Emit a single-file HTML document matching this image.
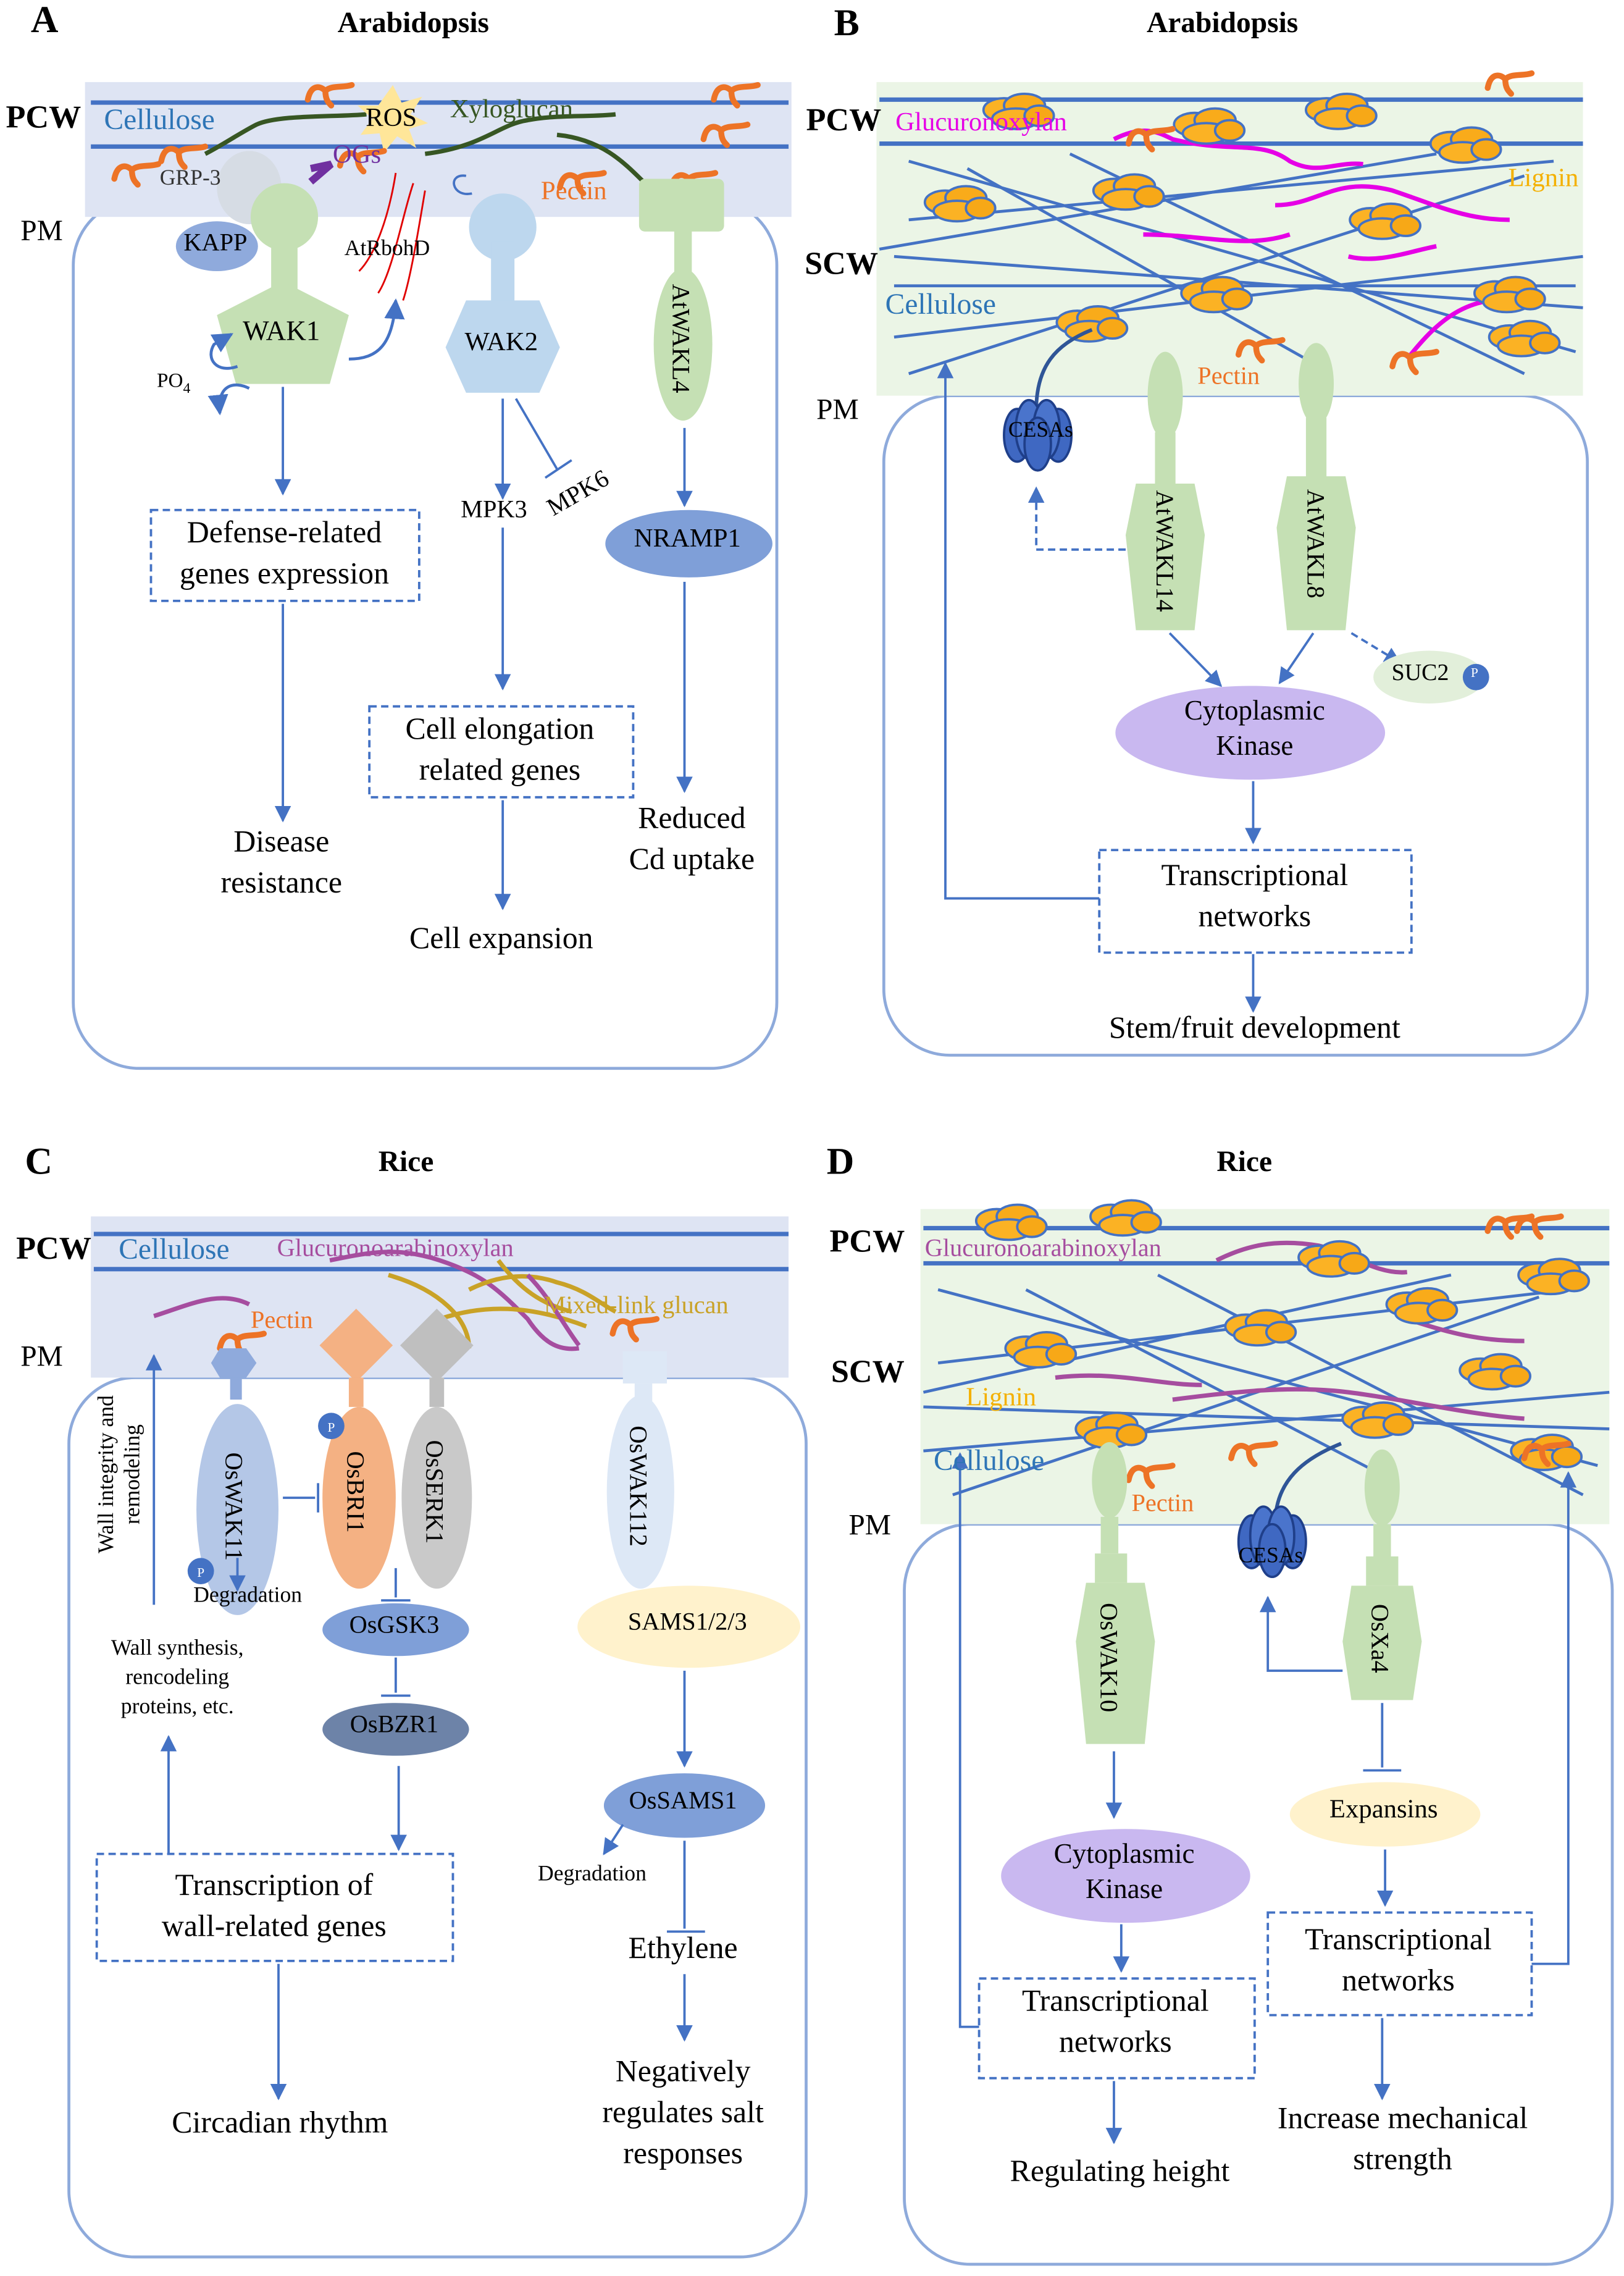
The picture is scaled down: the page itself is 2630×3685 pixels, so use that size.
<!DOCTYPE html>
<html><head><meta charset="utf-8">
<style>
html,body{margin:0;padding:0;background:#fff;}
svg{display:block;width:2630px;height:3685px;}
text{font-family:"Liberation Serif",serif;}
</style></head>
<body>
<svg viewBox="0 0 1108 1553" preserveAspectRatio="none" xmlns="http://www.w3.org/2000/svg">
<defs>
<marker id="ah" viewBox="0 0 10 10" refX="9" refY="5" markerWidth="7" markerHeight="7" orient="auto-start-reverse"><path d="M0,0 L10,5 L0,10 z" fill="#4472c4"/></marker>
<g id="pec"><path d="M0,10 C2,0 8,0 12,4 C16,0 24,2 30,0 M12,4 C12,10 14,12 16,14" fill="none" stroke="#ed7326" stroke-width="4" stroke-linecap="round"/></g>
<g id="lig"><ellipse cx="0" cy="0" rx="14" ry="8" fill="#fbb224"/><ellipse cx="14" cy="-3" rx="14" ry="8" fill="#f9ab1a"/><ellipse cx="8" cy="6" rx="16" ry="7" fill="#fbb224"/><ellipse cx="24" cy="4" rx="10" ry="7" fill="#f7a817"/></g>
<g id="cesa"><ellipse cx="-14" cy="0" rx="9" ry="18" fill="#3f68c2" stroke="#1f3f8a"/><ellipse cx="14" cy="0" rx="9" ry="18" fill="#3f68c2" stroke="#1f3f8a"/><ellipse cx="-6" cy="-4" rx="9" ry="20" fill="#4a74cc" stroke="#1f3f8a"/><ellipse cx="6" cy="-4" rx="9" ry="20" fill="#4a74cc" stroke="#1f3f8a"/><ellipse cx="0" cy="6" rx="9" ry="18" fill="#3f68c2" stroke="#1f3f8a"/></g>
</defs>
<g fill="none" stroke="#4472c4" stroke-width="1.6">

<!-- ================= PANEL A ================= -->
<rect x="50" y="136" width="480" height="593" rx="45" stroke="#8eaadb" stroke-width="2"/>
<rect x="58" y="56" width="482" height="92" fill="#dee4f3" stroke="none"/>
<line x1="62" y1="70" x2="538" y2="70" stroke="#4472c4" stroke-width="3"/>
<line x1="62" y1="100" x2="538" y2="100" stroke="#4472c4" stroke-width="3"/>
<path d="M140,105 C150,100 165,90 175,85 C190,78 230,80 250,78" stroke="#375623" stroke-width="3"/>
<path d="M290,105 C330,100 340,85 360,82 C380,78 405,80 420,78" stroke="#375623" stroke-width="3"/>
<path d="M380,92 C410,95 425,110 440,125" stroke="#375623" stroke-width="3"/>
<polygon points="268,58 274,70 288,66 280,78 292,84 279,88 284,101 271,93 262,104 259,91 246,92 254,81 244,72 258,72" fill="#ffe699" stroke="none"/>
<ellipse cx="170" cy="128" rx="22" ry="25" fill="#d6dce4" stroke="none"/>
<use href="#pec" x="78" y="112"/><use href="#pec" x="110" y="100"/><use href="#pec" x="210" y="58"/><use href="#pec" x="232" y="103"/><use href="#pec" x="487" y="58"/><use href="#pec" x="480" y="85"/><use href="#pec" x="382" y="118"/><use href="#pec" x="458" y="118"/>
<path d="M212,115 L226,112 L212,124" stroke="#7030a0" stroke-width="5"/>
<!-- WAK1 -->
<circle cx="194" cy="148" r="23" fill="#c5e0b4" stroke="none"/>
<rect x="185" y="160" width="18" height="40" fill="#c5e0b4" stroke="none"/>
<polygon points="193,192 238,215 225,262 161,262 148,215" fill="#c5e0b4" stroke="none"/>
<ellipse cx="148" cy="168" rx="28" ry="17" fill="#8faadc" stroke="none"/>
<path d="M282,125 C275,145 268,185 258,200 M270,118 C265,150 255,175 245,185 M290,130 C285,160 280,190 275,205" stroke="#e00000" stroke-width="1.2"/>
<path d="M318,120 C305,118 308,135 322,132" stroke="#4472c4"/>
<path d="M238,245 C258,245 268,235 270,205" marker-end="url(#ah)" stroke-width="2"/>
<path d="M162,250 C148,255 140,245 146,235 L158,228" marker-end="url(#ah)" stroke-width="2"/>
<path d="M170,265 C160,260 148,262 150,282" marker-end="url(#ah)" stroke-width="2"/>
<line x1="193" y1="264" x2="193" y2="337" marker-end="url(#ah)"/>
<rect x="103" y="348" width="183" height="62" stroke-dasharray="5,3"/>
<line x1="193" y1="412" x2="193" y2="560" marker-end="url(#ah)"/>
<!-- WAK2 -->
<circle cx="343" cy="155" r="23" fill="#bdd7ee" stroke="none"/>
<rect x="335" y="165" width="16" height="45" fill="#bdd7ee" stroke="none"/>
<polygon points="318,205 368,205 382,237 368,268 318,268 304,237" fill="#bdd7ee" stroke="none"/>
<line x1="343" y1="272" x2="343" y2="340" marker-end="url(#ah)"/>
<line x1="352" y1="272" x2="380" y2="320"/><line x1="372" y1="326" x2="390" y2="314"/>
<line x1="343" y1="360" x2="343" y2="470" marker-end="url(#ah)"/>
<rect x="252" y="482" width="180" height="62" stroke-dasharray="5,3"/>
<line x1="343" y1="546" x2="343" y2="620" marker-end="url(#ah)"/>
<!-- AtWAKL4 -->
<rect x="436" y="122" width="58" height="36" rx="4" fill="#c5e0b4" stroke="none"/>
<rect x="460" y="155" width="12" height="45" fill="#c5e0b4" stroke="none"/>
<ellipse cx="466" cy="235" rx="20" ry="52" fill="#c5e0b4" stroke="none"/>
<line x1="467" y1="292" x2="467" y2="345" marker-end="url(#ah)"/>
<ellipse cx="470" cy="371" rx="57" ry="23" fill="#7f9fd8" stroke="none"/>
<line x1="467" y1="397" x2="467" y2="540" marker-end="url(#ah)"/>

<!-- ================= PANEL B ================= -->
<rect x="603" y="270" width="480" height="450" rx="45" stroke="#8eaadb" stroke-width="2"/>
<rect x="598" y="56" width="482" height="214" fill="#ebf5e6" stroke="none"/>
<line x1="600" y1="68" x2="1080" y2="68" stroke="#4472c4" stroke-width="3"/>
<line x1="600" y1="98" x2="1080" y2="98" stroke="#4472c4" stroke-width="3"/>
<g stroke="#4472c4" stroke-width="2">
<line x1="620" y1="110" x2="1075" y2="240"/><line x1="620" y1="150" x2="1060" y2="110"/><line x1="610" y1="230" x2="1080" y2="175"/><line x1="620" y1="255" x2="1040" y2="120"/><line x1="610" y1="195" x2="1075" y2="195"/><line x1="660" y1="115" x2="900" y2="250"/><line x1="730" y1="105" x2="1040" y2="255"/><line x1="600" y1="170" x2="980" y2="105"/><line x1="610" y1="175" x2="1080" y2="210"/>
</g>
<g stroke="#e600e6" stroke-width="3">
<path d="M760,95 C780,85 790,90 800,95 C840,105 860,95 880,110 C900,120 910,110 930,112"/>
<path d="M870,140 C900,140 910,120 950,130 C980,140 1000,150 1030,150"/>
<path d="M780,160 C820,160 850,170 880,160"/>
<path d="M960,245 C980,220 1000,200 1040,205"/>
<path d="M920,175 C940,180 960,172 980,168"/>
</g>
<use href="#lig" x="685" y="75"/><use href="#lig" x="815" y="85"/><use href="#lig" x="905" y="75"/><use href="#lig" x="990" y="98"/><use href="#lig" x="645" y="138"/><use href="#lig" x="760" y="130"/><use href="#lig" x="935" y="150"/><use href="#lig" x="820" y="200"/><use href="#lig" x="1020" y="200"/><use href="#lig" x="1030" y="230"/><use href="#lig" x="735" y="220"/>
<use href="#pec" x="770" y="88"/><use href="#pec" x="845" y="232"/><use href="#pec" x="950" y="240"/><use href="#pec" x="1015" y="50"/>
<path d="M707,280 C707,250 720,235 745,225" stroke="#2f5597" stroke-width="2.5"/>
<use href="#cesa" x="708" y="297"/>
<ellipse cx="795" cy="270" rx="12" ry="30" fill="#c5e0b4" stroke="none"/>
<rect x="788" y="295" width="14" height="40" fill="#c5e0b4" stroke="none"/>
<polygon points="775,330 815,330 822,365 815,430 775,430 768,365" fill="#c5e0b4" stroke="none"/>
<ellipse cx="898" cy="262" rx="12" ry="28" fill="#c5e0b4" stroke="none"/>
<rect x="891" y="285" width="14" height="45" fill="#c5e0b4" stroke="none"/>
<polygon points="878,325 918,325 925,360 918,430 878,430 871,360" fill="#c5e0b4" stroke="none"/>
<polyline points="768,375 707,375 707,333" stroke-dasharray="5,3" marker-end="url(#ah)"/>
<line x1="798" y1="432" x2="833" y2="468" marker-end="url(#ah)"/>
<line x1="896" y1="432" x2="873" y2="466" marker-end="url(#ah)"/>
<line x1="922" y1="432" x2="955" y2="452" stroke-dasharray="5,3" marker-end="url(#ah)"/>
<ellipse cx="975" cy="462" rx="38" ry="18" fill="#e2efda" stroke="none"/>
<circle cx="1007" cy="462" r="9" fill="#4472c4" stroke="none"/>
<ellipse cx="853" cy="500" rx="92" ry="32" fill="#c9b8f0" stroke="none"/>
<line x1="855" y1="533" x2="855" y2="575" marker-end="url(#ah)"/>
<rect x="750" y="580" width="213" height="70" stroke-dasharray="5,3"/>
<polyline points="750,613 645,613 645,248" marker-end="url(#ah)"/>
<line x1="855" y1="651" x2="855" y2="690" marker-end="url(#ah)"/>

<!-- ================= PANEL C ================= -->
<rect x="47" y="940" width="503" height="600" rx="45" stroke="#8eaadb" stroke-width="2"/>
<rect x="62" y="830" width="476" height="110" fill="#dee4f3" stroke="none"/>
<line x1="64" y1="842" x2="538" y2="842" stroke="#4472c4" stroke-width="3"/>
<line x1="64" y1="866" x2="538" y2="866" stroke="#4472c4" stroke-width="3"/>
<path d="M105,898 C130,890 150,880 170,890" stroke="#a64d9f" stroke-width="3"/>
<path d="M225,860 C250,855 270,850 300,860 C330,870 340,880 360,900 C370,915 380,922 395,920" stroke="#a64d9f" stroke-width="3"/>
<path d="M265,870 C300,880 320,900 320,920 M320,880 C340,870 360,868 380,875 C400,880 410,890 420,895 M300,900 C330,890 360,890 400,905 M340,860 C355,880 370,890 390,895" stroke="#c9a227" stroke-width="3"/>
<path d="M360,870 C375,885 385,905 395,918" stroke="#a64d9f" stroke-width="3"/>
<use href="#pec" x="150" y="910"/><use href="#pec" x="418" y="900"/>
<polygon points="150,920 168,920 175,930 168,940 150,940 144,930" fill="#8faadc" stroke="none"/>
<rect x="157" y="940" width="8" height="15" fill="#8faadc" stroke="none"/>
<ellipse cx="162" cy="1030" rx="28" ry="72" fill="#b4c7e7" stroke="none"/>
<circle cx="137" cy="1072" r="9" fill="#4472c4" stroke="none"/>
<polygon points="243,893 268,918 243,943 218,918" fill="#f4b183" stroke="none"/>
<rect x="238" y="940" width="10" height="20" fill="#f4b183" stroke="none"/>
<ellipse cx="245" cy="1022" rx="25" ry="62" fill="#f4b183" stroke="none"/>
<circle cx="226" cy="973" r="9" fill="#4472c4" stroke="none"/>
<polygon points="298,893 323,918 298,943 273,918" fill="#bfbfbf" stroke="none"/>
<rect x="293" y="940" width="10" height="20" fill="#bfbfbf" stroke="none"/>
<ellipse cx="298" cy="1022" rx="24" ry="62" fill="#c9c9c9" stroke="none"/>
<line x1="193" y1="1022" x2="215" y2="1022" stroke="#4472c4"/><line x1="217" y1="1012" x2="217" y2="1032"/>
<line x1="162" y1="1063" x2="162" y2="1085" marker-end="url(#ah)"/>
<line x1="270" y1="1070" x2="270" y2="1090" stroke="#4472c4"/><line x1="260" y1="1092" x2="280" y2="1092"/>
<ellipse cx="270" cy="1112" rx="50" ry="18" fill="#7f9fd8" stroke="none"/>
<line x1="270" y1="1131" x2="270" y2="1155"/><line x1="260" y1="1157" x2="280" y2="1157"/>
<ellipse cx="270" cy="1180" rx="50" ry="18" fill="#6d83a8" stroke="none"/>
<line x1="272" y1="1205" x2="272" y2="1262" marker-end="url(#ah)"/>
<rect x="66" y="1265" width="243" height="73" stroke-dasharray="5,3"/>
<line x1="190" y1="1340" x2="190" y2="1432" marker-end="url(#ah)"/>
<line x1="115" y1="1265" x2="115" y2="1185" marker-end="url(#ah)"/>
<line x1="105" y1="1095" x2="105" y2="925" marker-end="url(#ah)"/>
<rect x="425" y="922" width="30" height="22" fill="#dde8f6" stroke="none"/>
<rect x="433" y="944" width="12" height="12" fill="#dde8f6" stroke="none"/>
<ellipse cx="437" cy="1018" rx="23" ry="66" fill="#dde8f6" stroke="none"/>
<ellipse cx="470" cy="1110" rx="76" ry="28" fill="#fff2cc" stroke="none"/>
<line x1="467" y1="1140" x2="467" y2="1205" marker-end="url(#ah)"/>
<ellipse cx="467" cy="1232" rx="55" ry="22" fill="#7f9fd8" stroke="none"/>
<line x1="425" y1="1245" x2="412" y2="1265" marker-end="url(#ah)"/>
<line x1="467" y1="1256" x2="467" y2="1316"/><line x1="455" y1="1318" x2="481" y2="1318"/>
<line x1="467" y1="1347" x2="467" y2="1392" marker-end="url(#ah)"/>

<!-- ================= PANEL D ================= -->
<rect x="617" y="1040" width="483" height="505" rx="45" stroke="#8eaadb" stroke-width="2"/>
<rect x="628" y="825" width="470" height="215" fill="#ebf5e6" stroke="none"/>
<line x1="630" y1="838" x2="1098" y2="838" stroke="#4472c4" stroke-width="3"/>
<line x1="630" y1="862" x2="1098" y2="862" stroke="#4472c4" stroke-width="3"/>
<g stroke="#4472c4" stroke-width="2">
<line x1="640" y1="880" x2="1090" y2="1000"/><line x1="640" y1="930" x2="1070" y2="880"/><line x1="630" y1="990" x2="1098" y2="950"/><line x1="650" y1="1020" x2="1050" y2="885"/><line x1="630" y1="960" x2="1098" y2="975"/><line x1="700" y1="880" x2="950" y2="1010"/><line x1="790" y1="870" x2="1080" y2="1020"/><line x1="630" y1="950" x2="990" y2="870"/>
</g>
<g stroke="#a64d9f" stroke-width="3">
<path d="M830,860 C850,850 870,845 900,850 C920,855 940,870 960,868"/>
<path d="M800,955 C840,950 880,945 920,950 C960,955 1000,965 1040,968"/>
<path d="M720,940 C760,935 790,945 820,945"/>
<path d="M960,900 C990,910 1010,915 1040,915"/>
</g>
<use href="#lig" x="680" y="833"/><use href="#lig" x="758" y="830"/><use href="#lig" x="900" y="858"/><use href="#lig" x="960" y="890"/><use href="#lig" x="850" y="905"/><use href="#lig" x="700" y="920"/><use href="#lig" x="930" y="968"/><use href="#lig" x="1010" y="935"/><use href="#lig" x="748" y="975"/><use href="#lig" x="1045" y="990"/><use href="#lig" x="1050" y="870"/>
<use href="#pec" x="1015" y="830"/><use href="#pec" x="770" y="1000"/><use href="#pec" x="840" y="985"/><use href="#pec" x="1040" y="985"/><use href="#pec" x="1035" y="830"/>
<path d="M870,1040 C870,1010 890,995 915,985" stroke="#2f5597" stroke-width="2.5"/>
<use href="#cesa" x="868" y="1052"/>
<ellipse cx="757" cy="1010" rx="12" ry="26" fill="#c5e0b4" stroke="none"/>
<rect x="751" y="1035" width="12" height="25" fill="#c5e0b4" stroke="none"/>
<rect x="747" y="1060" width="22" height="20" fill="#c5e0b4" stroke="none"/>
<polygon points="741,1080 781,1080 788,1120 781,1190 741,1190 734,1120" fill="#c5e0b4" stroke="none"/>
<ellipse cx="943" cy="1015" rx="12" ry="26" fill="#c5e0b4" stroke="none"/>
<rect x="937" y="1040" width="12" height="25" fill="#c5e0b4" stroke="none"/>
<rect x="932" y="1062" width="22" height="20" fill="#c5e0b4" stroke="none"/>
<polygon points="922,1082 964,1082 970,1120 964,1160 922,1160 916,1120" fill="#c5e0b4" stroke="none"/>
<polyline points="916,1140 865,1140 865,1090" marker-end="url(#ah)"/>
<line x1="943" y1="1162" x2="943" y2="1206"/><line x1="930" y1="1208" x2="956" y2="1208"/>
<ellipse cx="945" cy="1238" rx="65" ry="22" fill="#fff2cc" stroke="none"/>
<line x1="945" y1="1262" x2="945" y2="1300" marker-end="url(#ah)"/>
<rect x="865" y="1305" width="180" height="70" stroke-dasharray="5,3"/>
<polyline points="1045,1340 1070,1340 1070,1005" marker-end="url(#ah)"/>
<line x1="943" y1="1377" x2="943" y2="1432" marker-end="url(#ah)"/>
<line x1="760" y1="1195" x2="760" y2="1240" marker-end="url(#ah)"/>
<ellipse cx="768" cy="1280" rx="85" ry="32" fill="#c9b8f0" stroke="none"/>
<line x1="765" y1="1313" x2="765" y2="1345" marker-end="url(#ah)"/>
<rect x="668" y="1350" width="188" height="68" stroke-dasharray="5,3"/>
<polyline points="668,1383 655,1383 655,992" marker-end="url(#ah)"/>
<line x1="760" y1="1420" x2="760" y2="1462" marker-end="url(#ah)"/>
</g>

<!-- ================= TEXT ================= -->
<g font-family="Liberation Serif, serif" fill="#000" transform="translate(-1,-4)">
<text x="22" y="26" font-size="26" font-weight="bold">A</text>
<text x="283" y="26" font-size="20" font-weight="bold" text-anchor="middle">Arabidopsis</text>
<text x="5" y="91" font-size="22" font-weight="bold">PCW</text>
<text x="72" y="92" font-size="20" fill="#2e75b6">Cellulose</text>
<text x="268" y="90" font-size="18" text-anchor="middle">ROS</text>
<text x="308" y="84" font-size="18" fill="#375623">Xyloglucan</text>
<text x="110" y="130" font-size="15" fill="#333">GRP-3</text>
<text x="228" y="115" font-size="18" fill="#7030a0">OGs</text>
<text x="370" y="140" font-size="18" fill="#ed7326">Pectin</text>
<text x="15" y="168" font-size="20">PM</text>
<text x="148" y="175" font-size="17" text-anchor="middle">KAPP</text>
<text x="236" y="178" font-size="15">AtRbohD</text>
<text x="193" y="236" font-size="19" text-anchor="middle">WAK1</text>
<text x="343" y="243" font-size="18" text-anchor="middle">WAK2</text>
<text transform="translate(460,235) rotate(90)" font-size="17" text-anchor="middle">AtWAKL4</text>
<text x="108" y="268" font-size="14">PO<tspan font-size="10" dy="4">4</tspan></text>
<text x="195" y="374" font-size="21" text-anchor="middle">Defense-related</text>
<text x="195" y="402" font-size="21" text-anchor="middle">genes expression</text>
<text x="338" y="357" font-size="17" text-anchor="middle">MPK3</text>
<text transform="translate(398,345) rotate(-30)" font-size="17" text-anchor="middle">MPK6</text>
<text x="470" y="377" font-size="18" text-anchor="middle">NRAMP1</text>
<text x="342" y="508" font-size="21" text-anchor="middle">Cell elongation</text>
<text x="342" y="536" font-size="21" text-anchor="middle">related genes</text>
<text x="193" y="585" font-size="21" text-anchor="middle">Disease</text>
<text x="193" y="613" font-size="21" text-anchor="middle">resistance</text>
<text x="473" y="569" font-size="21" text-anchor="middle">Reduced</text>
<text x="473" y="597" font-size="21" text-anchor="middle">Cd uptake</text>
<text x="343" y="651" font-size="21" text-anchor="middle">Cell expansion</text>

<text x="570" y="28" font-size="26" font-weight="bold">B</text>
<text x="835" y="26" font-size="20" font-weight="bold" text-anchor="middle">Arabidopsis</text>
<text x="551" y="93" font-size="22" font-weight="bold">PCW</text>
<text x="612" y="93" font-size="18" fill="#e600e6">Glucuronoxylan</text>
<text x="1030" y="131" font-size="18" fill="#f4b000">Lignin</text>
<text x="550" y="191" font-size="22" font-weight="bold">SCW</text>
<text x="605" y="218" font-size="20" fill="#2e75b6">Cellulose</text>
<text x="818" y="266" font-size="17" fill="#ed7326">Pectin</text>
<text x="558" y="290" font-size="20">PM</text>
<text x="711" y="302" font-size="15" text-anchor="middle">CESAs</text>
<text transform="translate(790,380) rotate(90)" font-size="17" text-anchor="middle">AtWAKL14</text>
<text transform="translate(893,375) rotate(90)" font-size="17" text-anchor="middle">AtWAKL8</text>
<text x="970" y="468" font-size="16" text-anchor="middle">SUC2</text>
<text x="1007" y="466" font-size="9" fill="#fff" text-anchor="middle">P</text>
<text x="857" y="495" font-size="19" text-anchor="middle">Cytoplasmic</text>
<text x="857" y="519" font-size="19" text-anchor="middle">Kinase</text>
<text x="857" y="608" font-size="21" text-anchor="middle">Transcriptional</text>
<text x="857" y="636" font-size="21" text-anchor="middle">networks</text>
<text x="857" y="712" font-size="21" text-anchor="middle">Stem/fruit development</text>

<text x="18" y="805" font-size="26" font-weight="bold">C</text>
<text x="278" y="803" font-size="20" font-weight="bold" text-anchor="middle">Rice</text>
<text x="12" y="863" font-size="22" font-weight="bold">PCW</text>
<text x="82" y="863" font-size="20" fill="#2e75b6">Cellulose</text>
<text x="190" y="861" font-size="17" fill="#a64d9f">Glucuronoarabinoxylan</text>
<text x="372" y="900" font-size="17" fill="#c9a227">Mixed-link glucan</text>
<text x="172" y="910" font-size="17" fill="#ed7326">Pectin</text>
<text x="15" y="936" font-size="20">PM</text>
<text transform="translate(155,1032) rotate(90)" font-size="17" text-anchor="middle">OsWAK11</text>
<text transform="translate(238,1022) rotate(90)" font-size="17" text-anchor="middle">OsBRI1</text>
<text transform="translate(292,1022) rotate(90)" font-size="17" text-anchor="middle">OsSERK1</text>
<text x="138" y="1080" font-size="9" fill="#fff" text-anchor="middle">P</text>
<text x="227" y="981" font-size="9" fill="#fff" text-anchor="middle">P</text>
<text x="170" y="1097" font-size="15" text-anchor="middle">Degradation</text>
<text transform="translate(78,1010) rotate(-90)" font-size="15" text-anchor="middle">Wall integrity and</text>
<text transform="translate(96,1010) rotate(-90)" font-size="15" text-anchor="middle">remodeling</text>
<text x="122" y="1133" font-size="15" text-anchor="middle">Wall synthesis,</text>
<text x="122" y="1153" font-size="15" text-anchor="middle">rencodeling</text>
<text x="122" y="1173" font-size="15" text-anchor="middle">proteins, etc.</text>
<text x="270" y="1118" font-size="17" text-anchor="middle">OsGSK3</text>
<text x="270" y="1186" font-size="17" text-anchor="middle">OsBZR1</text>
<text transform="translate(431,1018) rotate(90)" font-size="17" text-anchor="middle">OsWAK112</text>
<text x="470" y="1116" font-size="17" text-anchor="middle">SAMS1/2/3</text>
<text x="467" y="1238" font-size="17" text-anchor="middle">OsSAMS1</text>
<text x="405" y="1287" font-size="15" text-anchor="middle">Degradation</text>
<text x="188" y="1297" font-size="21" text-anchor="middle">Transcription of</text>
<text x="188" y="1325" font-size="21" text-anchor="middle">wall-related genes</text>
<text x="467" y="1340" font-size="21" text-anchor="middle">Ethylene</text>
<text x="467" y="1424" font-size="21" text-anchor="middle">Negatively</text>
<text x="467" y="1452" font-size="21" text-anchor="middle">regulates salt</text>
<text x="467" y="1480" font-size="21" text-anchor="middle">responses</text>
<text x="192" y="1459" font-size="21" text-anchor="middle">Circadian rhythm</text>

<text x="565" y="805" font-size="26" font-weight="bold">D</text>
<text x="850" y="803" font-size="20" font-weight="bold" text-anchor="middle">Rice</text>
<text x="567" y="858" font-size="22" font-weight="bold">PCW</text>
<text x="632" y="861" font-size="17" fill="#a64d9f">Glucuronoarabinoxylan</text>
<text x="568" y="947" font-size="22" font-weight="bold">SCW</text>
<text x="660" y="963" font-size="18" fill="#f4b000">Lignin</text>
<text x="638" y="1007" font-size="20" fill="#2e75b6">Cellulose</text>
<text x="773" y="1035" font-size="17" fill="#ed7326">Pectin</text>
<text x="580" y="1051" font-size="20">PM</text>
<text x="868" y="1070" font-size="15" text-anchor="middle">CESAs</text>
<text transform="translate(752,1135) rotate(90)" font-size="17" text-anchor="middle">OsWAK10</text>
<text transform="translate(937,1122) rotate(90)" font-size="17" text-anchor="middle">OsXa4</text>
<text x="945" y="1244" font-size="18" text-anchor="middle">Expansins</text>
<text x="768" y="1275" font-size="19" text-anchor="middle">Cytoplasmic</text>
<text x="768" y="1299" font-size="19" text-anchor="middle">Kinase</text>
<text x="955" y="1334" font-size="21" text-anchor="middle">Transcriptional</text>
<text x="955" y="1362" font-size="21" text-anchor="middle">networks</text>
<text x="762" y="1376" font-size="21" text-anchor="middle">Transcriptional</text>
<text x="762" y="1404" font-size="21" text-anchor="middle">networks</text>
<text x="958" y="1456" font-size="21" text-anchor="middle">Increase mechanical</text>
<text x="958" y="1484" font-size="21" text-anchor="middle">strength</text>
<text x="765" y="1492" font-size="21" text-anchor="middle">Regulating height</text>
</g>
</svg>
</body></html>
